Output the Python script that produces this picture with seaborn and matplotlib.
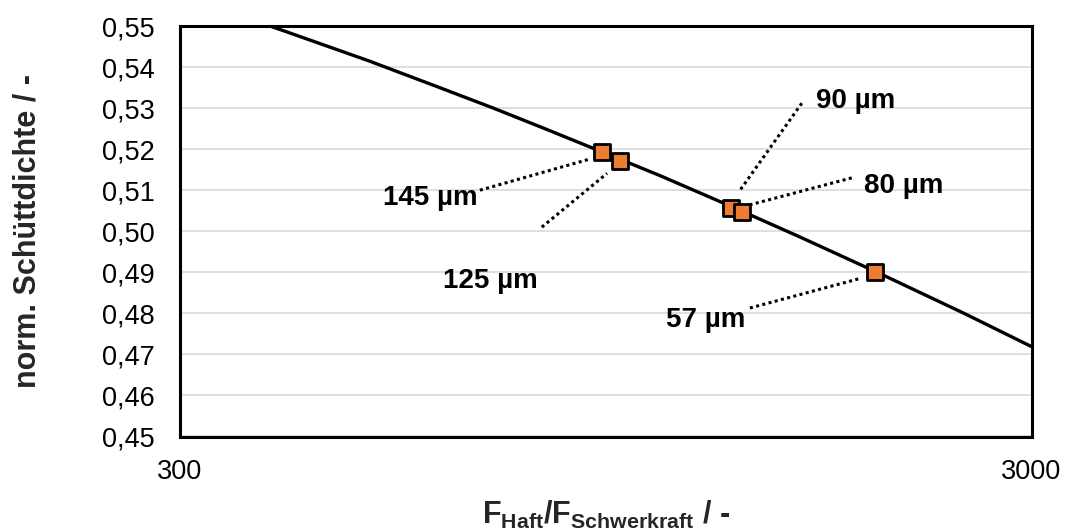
import matplotlib
matplotlib.use("Agg")
import matplotlib.pyplot as plt
import matplotlib.ticker as mticker
import seaborn as sns
import pandas as pd

# ---- data ----
curve_x = [350, 400, 500, 600, 700, 800, 940, 1100, 1330, 1600, 2000, 2500, 3000]
curve_y = [0.5528, 0.5486, 0.5415, 0.5353, 0.5300, 0.5252, 0.5193, 0.5135, 0.5061, 0.4987, 0.4895, 0.4800, 0.4719]

point_labels = ["145 µm", "125 µm", "90 µm", "80 µm", "57 µm"]
point_x = [940, 986, 1330, 1371, 1965]
point_y = [0.5192, 0.5172, 0.5057, 0.5047, 0.4901]

x_major_ticks = [300, 3000]
x_major_labels = ["300", "3000"]
x_minor_ticks = [600, 900, 1200, 1500, 1800, 2100, 2400, 2700]
y_ticks = [0.45, 0.46, 0.47, 0.48, 0.49, 0.50, 0.51, 0.52, 0.53, 0.54, 0.55]
y_tick_labels = ["0,45", "0,46", "0,47", "0,48", "0,49", "0,50", "0,51", "0,52", "0,53", "0,54", "0,55"]

# annotation layout (label centre/baseline, leader start, leader end) in data coords
label_pos = [(590, 0.5064), (694, 0.4862), (1866, 0.5300), (2125, 0.5093), (1244, 0.4767)]
leader_start = [(675, 0.5100), (798, 0.5010), (1612, 0.5312), (1845, 0.5130), (1401, 0.4813)]
leader_end = [(909, 0.5176), (952, 0.5141), (1364, 0.5100), (1375, 0.5060), (1887, 0.4885)]

sns.set_style("white")
plt.rcParams["font.family"] = ["Liberation Sans", "DejaVu Sans"]
plt.rcParams["mathtext.fontset"] = "custom"
plt.rcParams["mathtext.rm"] = "Liberation Sans"
plt.rcParams["mathtext.it"] = "Liberation Sans:italic"
plt.rcParams["mathtext.bf"] = "Liberation Sans:bold"

fig = plt.figure(figsize=(10.67, 5.30), dpi=100)
ax = fig.add_axes([180 / 1067, 1 - 436.5 / 530, 851.5 / 1067, 410.5 / 530])

curve_df = pd.DataFrame({"x": curve_x, "y": curve_y})
pts_df = pd.DataFrame({"x": point_x, "y": point_y, "label": point_labels})

ax.set_xscale("log")
ax.set_xlim(300, 3000)
ax.set_ylim(0.45, 0.55)

# gridlines
ax.set_axisbelow(True)
ax.yaxis.grid(True, color="#D9D9D9", linewidth=1.2)
ax.xaxis.grid(False)

sns.lineplot(data=curve_df, x="x", y="y", ax=ax, color="black", linewidth=2.4,
             sort=False, zorder=3)

# leader lines (dotted)
for (sx, sy), (ex, ey) in zip(leader_start, leader_end):
    ax.plot([sx, ex], [sy, ey], color="black", linewidth=2.2,
            linestyle=(0, (1, 1.1)), dash_capstyle="butt", zorder=4)

sns.scatterplot(data=pts_df, x="x", y="y", ax=ax, marker="s", s=118,
                color="#ED7D31", edgecolor="black", linewidth=2.0, zorder=5)

for lab, (lx, ly) in zip(point_labels, label_pos):
    ax.text(lx, ly, lab, ha="center", va="baseline", fontsize=20,
            fontweight="bold", color="black", zorder=6)

# ticks
ax.xaxis.set_major_locator(mticker.FixedLocator(x_major_ticks))
ax.xaxis.set_major_formatter(mticker.FixedFormatter(x_major_labels))
ax.xaxis.set_minor_locator(mticker.FixedLocator(x_minor_ticks))
ax.xaxis.set_minor_formatter(mticker.NullFormatter())
ax.yaxis.set_major_locator(mticker.FixedLocator(y_ticks))
ax.yaxis.set_major_formatter(mticker.FixedFormatter(y_tick_labels))
ax.yaxis.set_minor_locator(mticker.MultipleLocator(0.005))

ax.tick_params(axis="x", which="major", direction="out", length=6, width=2.0,
               labelsize=19.5, pad=10, colors="black")
ax.tick_params(axis="x", which="minor", direction="out", length=6, width=2.0)
ax.tick_params(axis="y", which="major", direction="out", length=7, width=2.0,
               labelsize=19.5, pad=11, colors="black")
ax.tick_params(axis="y", which="minor", direction="out", length=4.5, width=2.0)

for sp in ax.spines.values():
    sp.set_visible(True)
    sp.set_color("black")
    sp.set_linewidth(2.2)

ax.set_xlabel(r"$\mathbf{F_{Haft}/F_{Schwerkraft}}$ / -", fontsize=22,
              fontweight="bold", labelpad=10)
ax.set_ylabel("norm. Schüttdichte / -", fontsize=22, fontweight="bold",
              va="center")
ax.yaxis.set_label_coords(-152 / 851.5, 0.5)

fig.savefig("out.png", dpi=100)
